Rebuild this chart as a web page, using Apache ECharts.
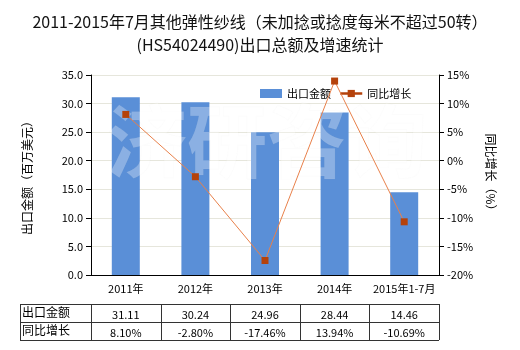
<!DOCTYPE html>
<html>
<head>
<meta charset="utf-8">
<script src="https://cdn.jsdelivr.net/npm/echarts@6/dist/echarts.min.js"></script>
<style>
  html, body { margin: 0; padding: 0; background: #fff; }
  #chart { width: 520px; height: 350px; }
</style>
</head>
<body>
<div id="chart"></div>
<script>
// Export value (million USD) and year-on-year growth (%)
var categories = ['2011年', '2012年', '2013年', '2014年', '2015年1-7月'];
var exportValue = [31.11, 30.24, 24.96, 28.44, 14.46];
var growthRate = [8.10, -2.80, -17.46, 13.94, -10.69];
var leftTicks = { min: 0, max: 35, interval: 5 };
var rightTicks = { min: -20, max: 15, interval: 5 };
var rowNames = ['出口金额', '同比增长'];

var FONT = '"Noto Sans CJK SC", "Microsoft YaHei", sans-serif';
var chart = echarts.init(document.getElementById('chart'), null, { renderer: 'canvas' });

var option = {
  animation: false,
  textStyle: { fontFamily: FONT },
  title: {
    text: '2011-2015年7月其他弹性纱线（未加捻或捻度每米不超过50转）\n(HS54024490)出口总额及增速统计',
    left: 'center',
    top: 5,
    textStyle: { fontSize: 16, fontWeight: 'normal', color: '#111', lineHeight: 23, fontFamily: FONT }
  },
  legend: {
    top: 83,
    left: 255,
    itemGap: 8,
    itemWidth: 22,
    itemHeight: 9,
    textStyle: { fontSize: 11, color: '#000', fontFamily: FONT },
    data: [
      { name: '出口金额', icon: 'rect' },
      { name: '同比增长', lineStyle: { color: '#b5420b', width: 2.5 } }
    ]
  },
  grid: { left: 91, right: 81, top: 75, bottom: 75, containLabel: false },
  xAxis: {
    type: 'category',
    data: categories,
    axisLine: { lineStyle: { color: '#000', width: 1 } },
    axisTick: { alignWithLabel: true, length: 4, lineStyle: { color: '#000' } },
    axisLabel: { color: '#000', fontSize: 11, margin: 8, interval: 0 }
  },
  yAxis: [
    {
      type: 'value',
      min: leftTicks.min, max: leftTicks.max, interval: leftTicks.interval,
      name: '出口金额（百万美元）',
      nameLocation: 'middle',
      nameGap: 58,
      nameRotate: 90,
      nameTextStyle: { fontSize: 12, color: '#000' },
      axisLine: { show: true, lineStyle: { color: '#000' } },
      axisTick: { show: true, length: 5, lineStyle: { color: '#000' } },
      axisLabel: { color: '#000', fontSize: 11, formatter: function (v) { return v.toFixed(1); } },
      splitLine: { show: true, lineStyle: { color: '#e6e6dc', width: 1 } }
    },
    {
      type: 'value',
      min: rightTicks.min, max: rightTicks.max, interval: rightTicks.interval,
      name: '同比增长（%）',
      nameLocation: 'middle',
      nameGap: 46,
      nameRotate: -90,
      nameTextStyle: { fontSize: 12, color: '#000' },
      axisLine: { show: true, lineStyle: { color: '#000' } },
      axisTick: { show: true, length: 5, lineStyle: { color: '#000' } },
      axisLabel: { color: '#000', fontSize: 11, formatter: '{value}%' },
      splitLine: { show: false }
    }
  ],
  series: [
    {
      name: '出口金额',
      type: 'bar',
      data: exportValue,
      barWidth: 28,
      itemStyle: { color: '#5a8fd7' },
      z: 2
    },
    {
      name: '同比增长',
      type: 'line',
      yAxisIndex: 1,
      data: growthRate,
      symbol: 'rect',
      symbolSize: 7,
      lineStyle: { color: '#e8804a', width: 1 },
      itemStyle: { color: '#b5420b' },
      z: 5
    }
  ]
};

chart.setOption(option);

// Data table under the plot, columns aligned with the category axis
function buildTable() {
  var gridRect = chart.getModel().getComponent('grid').coordinateSystem.getRect();
  var band = gridRect.width / categories.length;
  var tableLeft = 20;
  var tableRight = gridRect.x + gridRect.width;
  var rowTop = [304, 322, 340];
  var lineStyle = { stroke: '#333', lineWidth: 1 };
  var els = [];

  // horizontal rules
  rowTop.forEach(function (y) {
    els.push({ type: 'line', shape: { x1: tableLeft, y1: y + 0.5, x2: tableRight, y2: y + 0.5 }, style: lineStyle, silent: true });
  });
  // vertical rules
  var xs = [tableLeft, gridRect.x];
  for (var i = 1; i <= categories.length; i++) xs.push(gridRect.x + band * i);
  xs.forEach(function (x) {
    var px = Math.round(x) + 0.5;
    els.push({ type: 'line', shape: { x1: px, y1: rowTop[0], x2: px, y2: rowTop[2] }, style: lineStyle, silent: true });
  });

  var rows = [
    exportValue.map(function (v) { return v.toFixed(2); }),
    growthRate.map(function (v) { return v.toFixed(2) + '%'; })
  ];
  rows.forEach(function (row, r) {
    var cy = (rowTop[r] + rowTop[r + 1]) / 2 + 1;
    els.push({
      type: 'text', x: tableLeft + 2, y: cy - 2,
      style: { text: rowNames[r], fill: '#000', font: '12px ' + FONT, textAlign: 'left', textVerticalAlign: 'middle' },
      silent: true
    });
    row.forEach(function (txt, c) {
      var cx = chart.convertToPixel({ xAxisIndex: 0 }, categories[c]);
      els.push({
        type: 'text', x: cx, y: cy + 1,
        style: { text: txt, fill: '#000', font: '11px ' + FONT, textAlign: 'center', textVerticalAlign: 'middle' },
        silent: true
      });
    });
  });

  // faint brand mark across the plot
  els.push({
    type: 'text',
    x: gridRect.x + gridRect.width / 2 + 2,
    y: gridRect.y + 66,
    z: 3,
    style: {
      text: '济研咨询',
      fill: 'rgba(255,255,255,0.3)',
      stroke: 'rgba(200,200,200,0.06)',
      lineWidth: 1,
      font: 'bold 80px ' + FONT,
      textAlign: 'center',
      textVerticalAlign: 'middle'
    },
    silent: true
  });

  chart.setOption({ graphic: { elements: els } });
}

buildTable();
</script>
</body>
</html>
